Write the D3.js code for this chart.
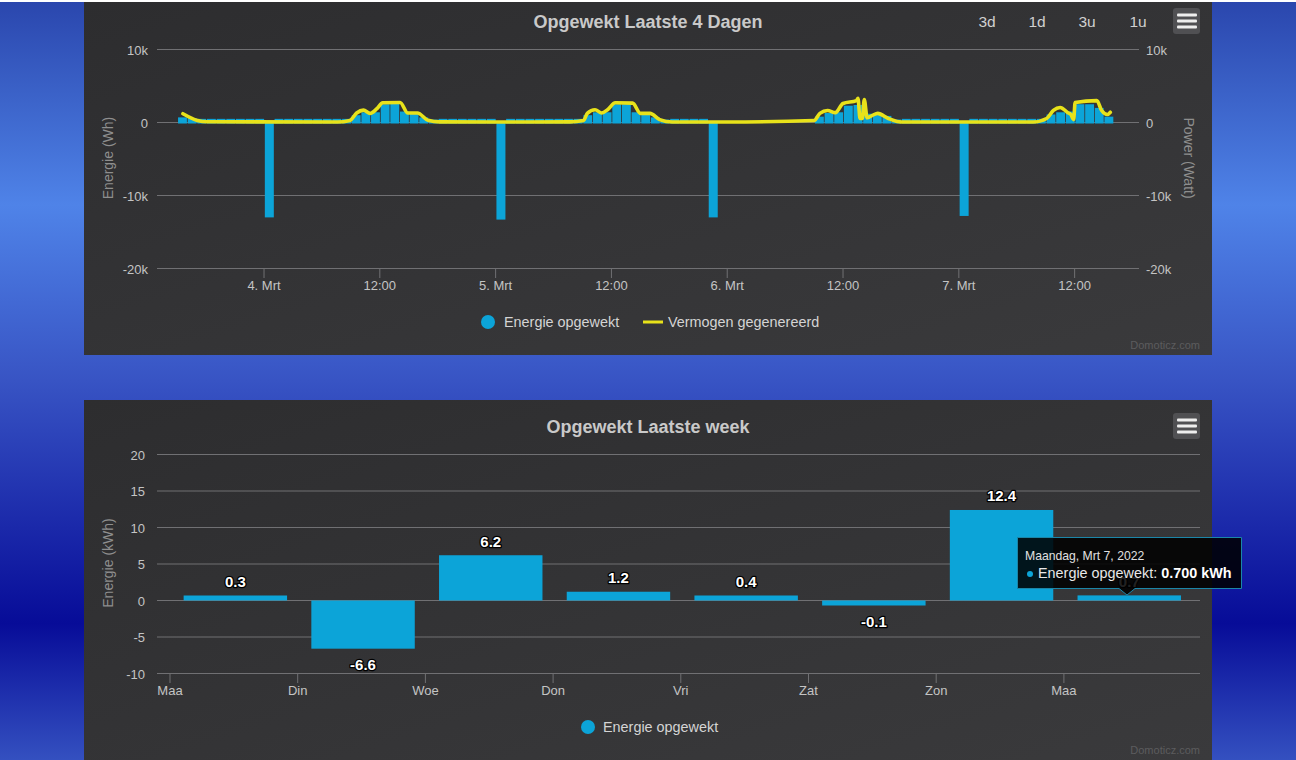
<!DOCTYPE html>
<html><head><meta charset="utf-8">
<script src="https://cdn.jsdelivr.net/npm/d3@7"></script>
<style>html,body{margin:0;padding:0;background:#000;overflow:hidden}svg{display:block}text{font-family:"Liberation Sans",Arial,sans-serif}</style>
</head><body><div id="c"></div>
<script>
// ---- data ----
const dayTickHours=[0,12,24,36,48,60,72,84];
const dayTickLabels=["4. Mrt","12:00","5. Mrt","12:00","6. Mrt","12:00","7. Mrt","12:00"];
const yTicks4d=[10000,0,-10000,-20000];
const yLabels4d=["10k","0","-10k","-20k"];
const barHours=d3.range(-9,88);
const barWh=[700,600,500,500,500,500,500,500,500,
 -13000,500,500,500,500,500,500,500,500,1000,1400,1400,2500,2600,1500,1300,700,400,500,500,500,500,500,500,
 -13300,500,500,500,500,500,500,500,500,1000,1400,1400,2500,2500,1400,1200,700,400,500,500,500,500,
 -13000,null,null,null,null,null,null,null,null,null,null,
 800,1300,1400,2300,2400,1200,1300,900,400,500,500,500,500,500,500,
 -12800,500,500,500,500,500,500,500,500,1100,1400,1500,2500,2500,2000,800];
const lineHours=[-8.4,-6.9,-5.9,7.6,8.9,9.6,10.3,11,11.7,12.3,14.1,14.9,15.9,17,18.2,24,
 31.7,33.1,33.5,34.3,35,35.6,36.4,38.2,39,40,41,42.3,48,57,57.6,58.4,59.2,60,61.4,61.55,61.76,62,62.2,62.5,63,63.6,64.7,65.6,66.4,79.7,
 81.1,81.8,82.5,83.3,83.6,83.9,84.05,86.3,86.8,87.4,87.7];
const lineW=[1200,280,100,60,280,1300,1700,1250,1900,2700,2750,1300,1300,300,80,60,
 80,280,1250,1750,1300,1750,2700,2650,1250,1250,400,60,60,280,1250,1650,1350,2600,3000,3300,550,550,3150,650,950,1250,550,150,60,60,
 550,1650,2050,1350,1100,400,2750,3000,1650,1100,1400];
const weekdays=["Maa","Din","Woe","Don","Vri","Zat","Zon","Maa"];
const weekKWh=[0.3,-6.6,6.2,1.2,0.4,-0.1,12.4,0.7];
const weekTicks=[20,15,10,5,0,-5,-10];
const zoomButtons=["3d","1d","3u","1u"];
const zoomButtonX=[987,1037,1087,1138];

const W=1296,H=760,BLUE="#0ca4d8",GRID="#707073",AX="#c4c4c4",TITLE="#c9c9c9",LEG="#d4d4d4",YEL="#e8e21a";
const svg=d3.select("#c").append("svg").attr("width",W).attr("height",H);
const defs=svg.append("defs");
const bg=defs.append("linearGradient").attr("id","bg").attr("x1",0).attr("x2",0).attr("y1",0).attr("y2",1);
[[0,"#2a46ad"],[0.27,"#4f83e8"],[0.5,"#3854c4"],[0.82,"#070c98"],[1,"#3450c0"]].forEach(s=>bg.append("stop").attr("offset",s[0]).attr("stop-color",s[1]));
const pg=defs.append("linearGradient").attr("id","pg").attr("x1",0).attr("x2",1).attr("y1",0).attr("y2",1);
[[0,"#2d2d2f"],[1,"#3a3a3c"]].forEach(s=>pg.append("stop").attr("offset",s[0]).attr("stop-color",s[1]));
svg.append("rect").attr("width",W).attr("height",H).attr("fill","url(#bg)");
svg.append("rect").attr("width",W).attr("height",2).attr("fill","#fff");
svg.append("rect").attr("x",84).attr("y",2).attr("width",1128).attr("height",353).attr("fill","url(#pg)");
svg.append("rect").attr("x",84).attr("y",400).attr("width",1128).attr("height",360).attr("fill","url(#pg)");

function txt(g,x,y,s,o={}){const t=g.append("text").attr("x",x).attr("y",y).text(s)
 .attr("font-size",o.size||13).attr("fill",o.fill||AX).attr("text-anchor",o.anchor||"middle").attr("font-weight",o.weight||"normal");
 if(o.rot!==undefined)t.attr("transform",`rotate(${o.rot} ${x} ${y})`);return t;}
function burger(cy){const g=svg.append("g");
 g.append("rect").attr("x",1173).attr("y",cy-13).attr("width",27).attr("height",26).attr("rx",3).attr("fill","#505053");
 [-6,0,6].forEach(d=>g.append("rect").attr("x",1177).attr("y",cy+d-1.5).attr("width",20).attr("height",3).attr("rx",1).attr("fill","#eee"));}

// ---- top chart ----
const g4=svg.append("g");
const x4=d3.scaleLinear().domain([-11.09,90.67]).range([157,1139]);
const y4=d3.scaleLinear().domain([-20000,10000]).range([268.5,49.5]);
txt(g4,648,28,"Opgewekt Laatste 4 Dagen",{size:18,weight:"bold",fill:TITLE});
zoomButtons.forEach((b,i)=>txt(g4,zoomButtonX[i],27,b,{size:15.5,fill:"#d0d0d0"}));
burger(21);
yTicks4d.forEach((t,i)=>{
 g4.append("line").attr("x1",157).attr("x2",1139).attr("y1",y4(t)).attr("y2",y4(t)).attr("stroke",GRID);
 txt(g4,148,y4(t)+5,yLabels4d[i],{anchor:"end"});
 txt(g4,1146,y4(t)+5,yLabels4d[i],{anchor:"start"});
});
const bw=x4(1)-x4(0);
g4.selectAll(".b").data(barHours.map((h,i)=>({h,v:barWh[i]})).filter(d=>d.v!==null)).join("rect")
 .attr("x",d=>x4(d.h+0.55)-(d.v<0?4.5:bw/2-0.4)).attr("width",d=>d.v<0?9:bw-0.8)
 .attr("y",d=>y4(Math.max(0,d.v))).attr("height",d=>Math.abs(y4(d.v)-y4(0))+(d.v>0?1:0)).attr("fill",BLUE);
g4.append("path").datum(lineHours.map((h,i)=>[h,lineW[i]]))
 .attr("d",d3.line().x(d=>x4(d[0])).y(d=>y4(d[1])).curve(d3.curveMonotoneX))
 .attr("fill","none").attr("stroke",YEL).attr("stroke-width",3.6).attr("stroke-linejoin","round").attr("stroke-linecap","round");
dayTickHours.forEach((h,i)=>{
 g4.append("line").attr("x1",x4(h)).attr("x2",x4(h)).attr("y1",268).attr("y2",278).attr("stroke",GRID);
 txt(g4,x4(h),290,dayTickLabels[i]);
});
txt(g4,113,158,"Energie (Wh)",{size:14,fill:"#8e8e8e",rot:-90});
txt(g4,1184,158,"Power (Watt)",{size:14,fill:"#8e8e8e",rot:90});
g4.append("circle").attr("cx",488).attr("cy",322).attr("r",7).attr("fill",BLUE);
txt(g4,504,327,"Energie opgewekt",{size:14.4,anchor:"start",fill:LEG});
g4.append("line").attr("x1",643).attr("x2",663).attr("y1",322).attr("y2",322).attr("stroke",YEL).attr("stroke-width",3);
txt(g4,668,327,"Vermogen gegenereerd",{size:14.4,anchor:"start",fill:LEG});
txt(g4,1200,349,"Domoticz.com",{size:11,anchor:"end",fill:"#5c5c5e"});

// ---- bottom chart ----
const bot=svg.append("g");
const TICK_SHIFT=1.5;
const xw=d3.scaleBand().domain(d3.range(weekKWh.length)).range([170+TICK_SHIFT,1191.6+TICK_SHIFT]).paddingInner(0.19).paddingOuter(0.095);
const yw=d3.scaleLinear().domain([-10,20]).range([673.5,454.5]);
txt(bot,648,433,"Opgewekt Laatste week",{size:18,weight:"bold",fill:TITLE});
burger(426);
weekTicks.forEach(t=>{
 bot.append("line").attr("x1",157).attr("x2",1200).attr("y1",yw(t)).attr("y2",yw(t)).attr("stroke",GRID);
 txt(bot,145,yw(t)+5,t,{anchor:"end"});
});
const minLen=5;
const top_=v=>v>=0?Math.min(yw(v),yw(0)-minLen):yw(0);
const hgt=v=>Math.max(minLen,Math.abs(yw(v)-yw(0)));
bot.selectAll(".w").data(weekKWh).join("rect")
 .attr("x",(d,i)=>xw(i)).attr("width",xw.bandwidth()).attr("y",d=>top_(d)).attr("height",d=>hgt(d)).attr("fill",BLUE);
weekKWh.forEach((v,i)=>{
 const cx=xw(i)+xw.bandwidth()/2;
 const tickX=cx-xw.step()/2-TICK_SHIFT;
 bot.append("line").attr("x1",tickX).attr("x2",tickX).attr("y1",673).attr("y2",683).attr("stroke",GRID);
 txt(bot,tickX,695,weekdays[i]);
 const ly=v>=0?top_(v)-8.5:top_(v)+hgt(v)+21;
 txt(bot,cx,ly,v.toFixed(1),{size:15,weight:"bold",fill:"#fff"}).attr("stroke","#000").attr("stroke-width",2.5).attr("paint-order","stroke").attr("stroke-linejoin","round");
});
txt(bot,113,563,"Energie (kWh)",{size:14,fill:"#8e8e8e",rot:-90});
bot.append("circle").attr("cx",588).attr("cy",727).attr("r",7).attr("fill",BLUE);
txt(bot,603,732,"Energie opgewekt",{size:14.4,anchor:"start",fill:LEG});
txt(bot,1200,754,"Domoticz.com",{size:11,anchor:"end",fill:"#5c5c5e"});

// tooltip
const tip=svg.append("g");
tip.append("path").attr("d","M1017.5 537.5H1241.5V588.5H1135L1127 595L1119 588.5H1017.5Z")
 .attr("fill","rgba(0,0,0,0.87)").attr("stroke","#1b86a8").attr("stroke-width",1);
txt(tip,1025,560,"Maandag, Mrt 7, 2022",{size:12.2,anchor:"start",fill:"#e0e0e0"});
tip.append("circle").attr("cx",1030).attr("cy",574).attr("r",3).attr("fill",BLUE);
const tt=txt(tip,1038,578,"Energie opgewekt: ",{size:14.4,anchor:"start",fill:"#e8e8e8"});
tt.append("tspan").attr("font-weight","bold").attr("fill","#fff").text("0.700 kWh");
</script></body></html>
